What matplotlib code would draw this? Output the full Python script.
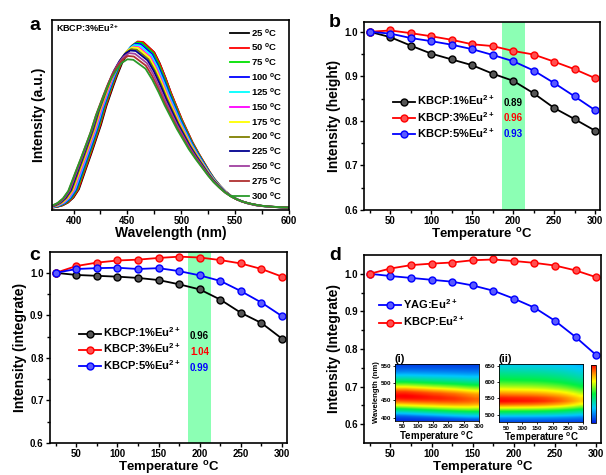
import matplotlib
matplotlib.use("Agg")
import matplotlib.pyplot as plt
import numpy as np
from matplotlib.colors import LinearSegmentedColormap

plt.rcParams['font.family'] = ['Liberation Sans', 'DejaVu Sans']
plt.rcParams['font.weight'] = 'bold'
plt.rcParams['axes.labelweight'] = 'bold'
plt.rcParams['mathtext.fontset'] = 'custom'
plt.rcParams['mathtext.bf'] = 'Liberation Sans:bold'
plt.rcParams['mathtext.rm'] = 'Liberation Sans:bold'
plt.rcParams['mathtext.default'] = 'bf'

# temperatures (deg C)
temps = [25, 50, 75, 100, 125, 150, 175, 200, 225, 250, 275, 300]

# relative peak height
height_1 = [1.0, 0.988, 0.969, 0.951, 0.938, 0.925, 0.906, 0.890, 0.862, 0.829, 0.804, 0.778]
height_3 = [1.0, 1.003, 0.997, 0.990, 0.982, 0.972, 0.968, 0.957, 0.949, 0.933, 0.916, 0.896]
height_5 = [1.0, 0.996, 0.986, 0.979, 0.971, 0.961, 0.948, 0.934, 0.913, 0.885, 0.855, 0.824]

# relative integrated intensity
integ_1 = [1.0, 0.995, 0.993, 0.991, 0.988, 0.983, 0.973, 0.961, 0.937, 0.906, 0.882, 0.845]
integ_3 = [1.0, 1.016, 1.024, 1.029, 1.031, 1.035, 1.038, 1.036, 1.030, 1.022, 1.009, 0.991]
integ_5 = [1.0, 1.009, 1.011, 1.012, 1.009, 1.011, 1.004, 0.994, 0.981, 0.957, 0.930, 0.898]

# YAG vs KBCP integrated intensity
yag_integ = [1.0, 0.994, 0.989, 0.984, 0.979, 0.969, 0.955, 0.934, 0.910, 0.875, 0.832, 0.784]
kbcp_integ = [1.0, 1.014, 1.023, 1.027, 1.030, 1.036, 1.038, 1.034, 1.029, 1.022, 1.009, 0.991]

# KBCP:3%Eu2+ emission at 25 C (normalised)
base_wl = list(range(380, 601, 5))
base_int = [0.004, 0.009, 0.018, 0.035, 0.065, 0.115, 0.21, 0.30, 0.395, 0.49,
            0.605, 0.70, 0.79, 0.87, 0.93, 0.975, 0.998, 0.995, 0.965, 0.935,
            0.87, 0.79, 0.70, 0.62, 0.54, 0.47, 0.40, 0.34, 0.285, 0.23,
            0.18, 0.14, 0.105, 0.078, 0.058, 0.043, 0.032, 0.024, 0.017, 0.013,
            0.010, 0.008, 0.006, 0.004, 0.003]
base_peak = 462.0
base_hw_right = 40.0

# peak position and red-side half width for each temperature
peak_nm = [462, 461.5, 460.5, 459.5, 458.5, 457.5, 456.5, 455.5, 454.5, 453.5, 452.5, 452]
hw_right = [40, 40.5, 41, 41.5, 42, 42.5, 43, 43.5, 44, 44.5, 45, 45.5]

# YAG emission profile (normalised)
yag_wl = list(range(470, 661, 10))
yag_int = [0.03, 0.08, 0.18, 0.35, 0.52, 0.72, 0.90, 1.0, 0.97, 0.88,
           0.78, 0.68, 0.60, 0.53, 0.47, 0.42, 0.37, 0.32, 0.28, 0.25]

spec_colors = ['black', '#ff0000', '#00e000', '#0000ff', '#00ffff', '#ff00ff',
               '#ffff00', '#808000', '#000090', '#a040a0', '#b03030', '#2a9a2a']

band = (186, 214)
deg = r'$^{\mathbf{o}}$'
tlabel = 'Temperature ' + deg + 'C'

wl = np.linspace(380, 600, 441)


def spectrum(i):
    u = wl - peak_nm[i]
    src = np.where(u < 0, base_peak + u, base_peak + u * base_hw_right / hw_right[i])
    return height_3[i] * np.interp(src, base_wl, base_int)


def style_temp_axis(ax, ylo, yhi):
    ax.set_xlim(18, 306)
    ax.set_ylim(ylo, yhi)
    ax.set_xticks([50, 100, 150, 200, 250, 300])
    ax.set_xticks([25, 75, 125, 175, 225, 275], minor=True)
    ax.set_yticks([0.6, 0.7, 0.8, 0.9, 1.0])
    ax.set_yticks(np.arange(0.65, yhi, 0.1), minor=True)
    ax.tick_params(which='both', direction='out', labelsize=7, length=3, width=1, pad=1.5)
    ax.tick_params(which='minor', length=2)
    ax.set_xlabel(tlabel, fontsize=9.5, labelpad=0)
    for s in ax.spines.values():
        s.set_linewidth(1.2)


def draw_series(ax, y, color, face, label):
    ax.plot(temps, y, '-o', color=color, lw=1.3, ms=5, mfc=face, mec=color,
            mew=1.0, label=label)


fig = plt.figure(figsize=(6.06, 4.75), dpi=100)

# ---- a: emission spectra
ax = fig.add_axes([0.0858, 0.5579, 0.3911, 0.4])
for i, t in enumerate(temps):
    ax.plot(wl, spectrum(i), color=spec_colors[i], lw=1.3, label=f'{t} ' + deg + 'C')
ax.set_xlim(380, 600)
ax.set_ylim(-0.01, 1.13)
ax.set_yticks([])
ax.set_xticks([400, 450, 500, 550, 600])
ax.set_xticks(np.arange(400, 600, 25), minor=True)
ax.tick_params(which='both', direction='out', labelsize=7, length=3, width=1, pad=1.5)
ax.set_xlabel('Wavelength (nm)', fontsize=10, labelpad=0)
ax.set_ylabel('Intensity (a.u.)', fontsize=10, labelpad=4)
for s in ax.spines.values():
    s.set_linewidth(1.2)
ax.text(0.015, 0.955, 'KBCP:3%Eu$^{2+}$', transform=ax.transAxes, fontsize=6.5,
        va='center')
ax.legend(loc='upper right', bbox_to_anchor=(1.0, 1.0), frameon=False, fontsize=6.8,
          handlelength=2.0, handletextpad=0.25, labelspacing=0.3, borderpad=0.2)

# ---- b: peak height
ax = fig.add_axes([0.6007, 0.5579, 0.3894, 0.3958])
ax.axvspan(*band, color='#8cffb4', lw=0)
draw_series(ax, height_1, 'black', '#555555', 'KBCP:1%Eu$^{2+}$')
draw_series(ax, height_3, '#ff0000', '#ff5050', 'KBCP:3%Eu$^{2+}$')
draw_series(ax, height_5, '#0000ff', '#5a5aff', 'KBCP:5%Eu$^{2+}$')
style_temp_axis(ax, 0.6, 1.022)
ax.set_ylabel('Intensity (height)', fontsize=10, labelpad=2)
ax.legend(loc='upper left', bbox_to_anchor=(0.09, 0.66), frameon=False, fontsize=8,
          handlelength=2.0, handletextpad=0.15, labelspacing=0.2, borderpad=0.2)
for y, c, yy in zip([height_1, height_3, height_5], ['black', '#ff0000', '#0000ff'],
                    [0.841, 0.806, 0.771]):
    ax.text(188, yy, f'{y[temps.index(200)]:.2f}', color=c, fontsize=7,
            va='center', ha='left')

# ---- c: integrated intensity
ax = fig.add_axes([0.0825, 0.0674, 0.3911, 0.4021])
ax.axvspan(*band, color='#8cffb4', lw=0)
draw_series(ax, integ_1, 'black', '#555555', 'KBCP:1%Eu$^{2+}$')
draw_series(ax, integ_3, '#ff0000', '#ff5050', 'KBCP:3%Eu$^{2+}$')
draw_series(ax, integ_5, '#0000ff', '#5a5aff', 'KBCP:5%Eu$^{2+}$')
style_temp_axis(ax, 0.6, 1.049)
ax.set_ylabel('Intensity (integrate)', fontsize=10, labelpad=2)
ax.legend(loc='upper left', bbox_to_anchor=(0.09, 0.655), frameon=False, fontsize=8,
          handlelength=2.0, handletextpad=0.15, labelspacing=0.2, borderpad=0.2)
for y, c, yy in zip([integ_1, integ_3, integ_5], ['black', '#ff0000', '#0000ff'],
                    [0.852, 0.814, 0.776]):
    ax.text(188, yy, f'{y[temps.index(200)]:.2f}', color=c, fontsize=7,
            va='center', ha='left')

# ---- d: YAG vs KBCP
ax = fig.add_axes([0.6007, 0.0674, 0.3911, 0.3958])
draw_series(ax, yag_integ, '#0000ff', '#5a5aff', 'YAG:Eu$^{2+}$')
draw_series(ax, kbcp_integ, '#ff0000', '#ff5050', 'KBCP:Eu$^{2+}$')
style_temp_axis(ax, 0.55, 1.05)
ax.set_ylabel('Intensity (Integrate)', fontsize=10, labelpad=2)
ax.legend(loc='upper left', bbox_to_anchor=(0.03, 0.815), frameon=False, fontsize=8,
          handlelength=2.0, handletextpad=0.15, labelspacing=0.3, borderpad=0.2)

# ---- insets: emission maps
cmap = LinearSegmentedColormap.from_list(
    'rb', [(0, '#0020e0'), (0.25, '#00c8ff'), (0.5, '#00f040'),
           (0.72, '#ffff00'), (0.87, '#ff8000'), (1.0, '#ff0000')])

map_i = np.column_stack([spectrum(i) for i in range(len(temps))])
yag_grid = np.linspace(470, 660, 381)
map_ii = np.column_stack([h * np.interp(yag_grid, yag_wl, yag_int) for h in yag_integ])

ins1 = fig.add_axes([0.6518, 0.1137, 0.1386, 0.12])
im = ins1.imshow(map_i, origin='lower', aspect='auto', extent=[25, 300, 380, 600],
                 cmap=cmap, vmin=0, vmax=1.0, interpolation='bilinear')
ins1.set_ylim(390, 555)
ins1.set_yticks([400, 450, 500, 550])
ins1.set_ylabel('Wavelength (nm)', fontsize=5.5, labelpad=1)

ins2 = fig.add_axes([0.8234, 0.111, 0.1391, 0.1227])
ins2.imshow(map_ii, origin='lower', aspect='auto', extent=[25, 300, 470, 660],
            cmap=cmap, vmin=0, vmax=1.0, interpolation='bilinear')
ins2.set_ylim(477, 655)
ins2.set_yticks([500, 550, 600, 650])

for a, tag in [(ins1, '(i)'), (ins2, '(ii)')]:
    a.set_xlim(25, 300)
    a.set_xticks([50, 100, 150, 200, 250, 300])
    a.tick_params(labelsize=4.5, length=1.5, width=0.6, pad=1)
    a.set_xlabel(tlabel, fontsize=7, labelpad=0)
    a.text(0.0, 1.0, tag, transform=a.transAxes, fontsize=8, va='bottom', ha='left')
    for s in a.spines.values():
        s.set_linewidth(0.6)

cax = fig.add_axes([0.9748, 0.1101, 0.0087, 0.1215])
cb = fig.colorbar(im, cax=cax)
cb.set_ticks([])
cb.outline.set_linewidth(0.6)

# panel letters
for x, y, s in [(0.048, 0.965, 'a'), (0.543, 0.97, 'b'), (0.048, 0.48, 'c'), (0.543, 0.48, 'd')]:
    fig.text(x, y, s, fontsize=14, fontweight='bold', va='top')

fig.savefig('out.png', dpi=100, facecolor='white')
